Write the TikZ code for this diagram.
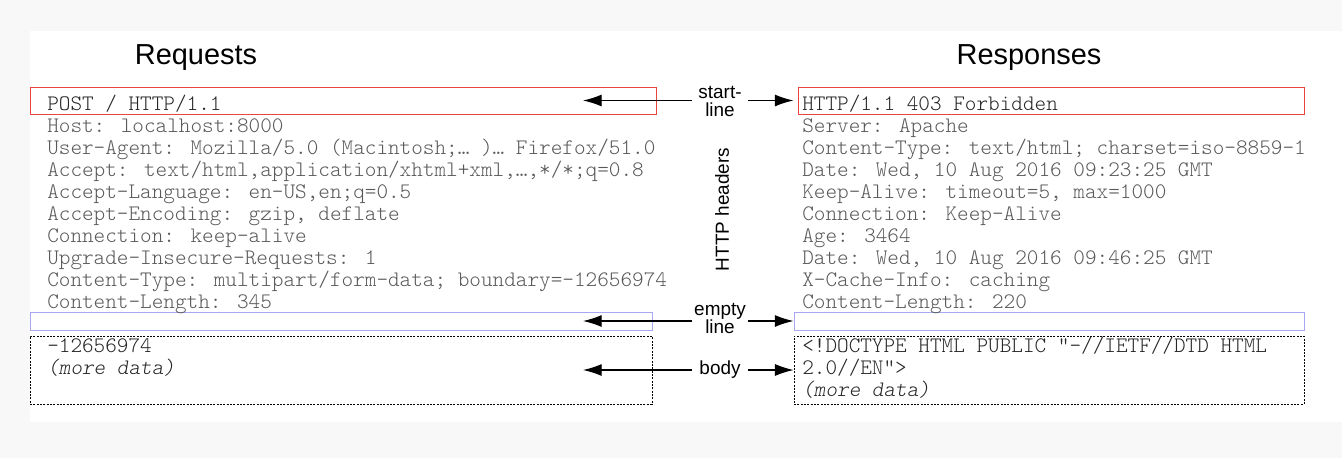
\documentclass[tikz,border=0pt]{standalone}
\usepackage{fontspec}
\setmainfont{Liberation Sans}
\newfontfamily\codefont[ItalicFont=lmmonolt10-oblique.otf]{lmmonolt10-regular.otf}
\usetikzlibrary{arrows.meta}
\usetikzlibrary{positioning}
\definecolor{pagegray}{HTML}{F8F8F8}
\definecolor{startred}{HTML}{E8453C}
\definecolor{emptyblue}{HTML}{A8A8F5}

\begin{document}
\begin{tikzpicture}[x=0.75pt,y=-0.75pt]

\tikzset{title/.style={font=\fontsize{21.7}{26}\selectfont, anchor=base, inner sep=0},
	code/.style={font=\codefont\fontsize{16.6}{16.5}\selectfont, anchor=base west, inner sep=0, text=black!85},
	hdr/.style={code, text=black!65},
	lbl/.style={font=\fontsize{14.2}{13.5}\selectfont, align=center, text width=42pt, inner sep=0},
	startbox/.style={draw=startred, line width=0.75pt, minimum height=20.25pt, inner sep=0},
	emptybox/.style={draw=emptyblue, line width=0.75pt, minimum height=13.5pt, inner sep=0},
	bodybox/.style={draw=black, line width=0.6pt, dash pattern=on 1.5pt off 1pt, minimum height=51pt, inner sep=0},
	arr/.style={-{Latex[length=14pt,width=9pt]}, line width=0.9pt}}

\fill[pagegray] (0,0) rectangle (1342,458);
\fill[white] (30,31) rectangle (1342,422);
\useasboundingbox (0,0) rectangle (1342,458);

\node[title] (reqtitle) at (196,64) {Requests};
\node[title] (restitle) at (1029,64) {Responses};

\node[startbox, minimum width=469.5pt] (reqstart) at (343,100.5) {};
\node[startbox, minimum width=379.5pt] (resstart) at (1051,100.5) {};
\node[emptybox, minimum width=466.5pt] (reqempty) at (341,321) {};
\node[emptybox, minimum width=382.5pt] (resempty) at (1049,321) {};
\node[bodybox, minimum width=466.5pt] (reqbody) at (341,370) {};
\node[bodybox, minimum width=382.5pt] (resbody) at (1049,370) {};

\node[code] (reqline) at (47,110) {POST / HTTP/1.1};
\node[code] (resline) at (802,110) {HTTP/1.1 403 Forbidden};

\foreach \txt [count=\i] in {{Host: localhost:8000},
	{User-Agent: Mozilla/5.0 (Macintosh;… )… Firefox/51.0},
	{Accept: text/html,application/xhtml+xml,…,*/*;q=0.8},
	{Accept-Language: en-US,en;q=0.5},
	{Accept-Encoding: gzip, deflate},
	{Connection: keep-alive},
	{Upgrade-Insecure-Requests: 1},
	{Content-Type: multipart/form-data; boundary=-12656974},
	{Content-Length: 345}}
	\node[hdr] (reqh\i) at (47,110+22*\i) {\txt};

\foreach \txt [count=\i] in {{Server: Apache},
	{Content-Type: text/html; charset=iso-8859-1},
	{Date: Wed, 10 Aug 2016 09:23:25 GMT},
	{Keep-Alive: timeout=5, max=1000},
	{Connection: Keep-Alive},
	{Age: 3464},
	{Date: Wed, 10 Aug 2016 09:46:25 GMT},
	{X-Cache-Info: caching},
	{Content-Length: 220}}
	\node[hdr] (resh\i) at (802,110+22*\i) {\txt};

\node[code] (reqdata1) at (47,352.5) {-12656974};
\node[code] (reqdata2) at (47,374) {\itshape (more data)};
\node[code] (resdata1) at (802,352.5) {<!DOCTYPE HTML PUBLIC "-//IETF//DTD HTML};
\node[code] (resdata2) at (802,374) {2.0//EN">};
\node[code] (resdata3) at (802,396) {\itshape (more data)};

\node[lbl] (startlbl) at (720,101) {start-\\line};
\node[lbl] (emptylbl) at (720,318) {empty\\line};
\node[lbl] (bodylbl) at (720,370) {body};
\node[font=\fontsize{14.2}{16}\selectfont, rotate=90, inner sep=0] (hdrlbl) at (722,209.5) {HTTP headers};

\coordinate (reqtip) at (583,0);

\draw[arr] (startlbl.west |- reqstart) -- (reqtip |- reqstart);
\draw[arr] (emptylbl.west |- reqempty) -- (reqtip |- reqempty);
\draw[arr] (bodylbl.west |- reqbody) -- (reqtip |- reqbody);
\draw[arr] (startlbl.east |- resstart) -- (resempty.west |- resstart);
\draw[arr] (emptylbl.east |- resempty) -- (resempty.west);
\draw[arr] (bodylbl.east |- resbody) -- (resbody.west);
\end{tikzpicture}
\end{document}
